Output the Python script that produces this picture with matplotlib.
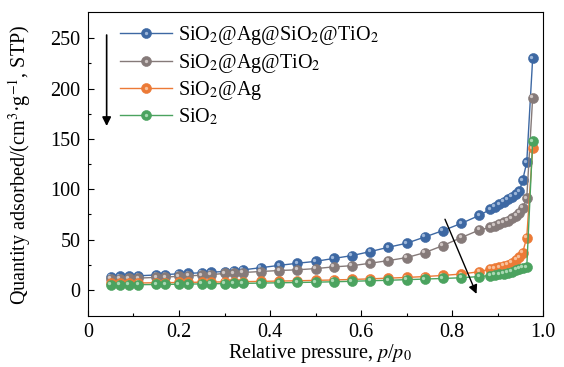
import matplotlib
matplotlib.use("Agg")
import matplotlib.pyplot as plt
import matplotlib.transforms as mtransforms
from matplotlib.legend_handler import HandlerTuple

plt.rcParams['font.family'] = ['Liberation Serif', 'DejaVu Serif']
plt.rcParams['mathtext.fontset'] = 'stix'

p = [0.05, 0.07, 0.09, 0.11, 0.15, 0.17, 0.20, 0.22, 0.25, 0.27, 0.30, 0.32, 0.34,
     0.38, 0.42, 0.46, 0.50, 0.54, 0.58, 0.62, 0.66, 0.70, 0.74, 0.78, 0.82, 0.86,
     0.884, 0.894, 0.904, 0.913, 0.922, 0.931, 0.941, 0.948, 0.955, 0.964, 0.977]

sio2_ag_sio2_tio2 = [13, 13.3, 13.6, 13.9, 14.8, 15.2, 15.9, 16.3, 17, 17.5, 18.2, 19, 19.8,
                     22, 24.3, 26.4, 28.3, 31.2, 34, 38, 42.3, 46.3, 52.5, 58.9, 66, 74,
                     80, 82.7, 85, 87.6, 90, 92.6, 95, 98, 109, 126.7, 230]
sio2_ag_tio2 = [11, 11.2, 11.4, 11.6, 12.4, 12.7, 13.4, 13.8, 14.6, 15.1, 16.3, 16.6, 17.2,
                18.2, 19.2, 19.9, 21.1, 22.8, 24, 26.4, 29.1, 32, 37, 44, 51.9, 59.5,
                62, 63.5, 65.5, 67, 68.7, 71, 73.4, 76.7, 81.6, 91, 191]
sio2_ag = [6.5, 6.6, 6.7, 6.8, 7, 7.1, 7.3, 7.4, 7.6, 7.7, 7.9, 8, 8.1,
           8.4, 8.7, 9, 9.4, 9.8, 10.3, 10.9, 11.6, 12.3, 13.2, 14.3, 15.7, 18,
           20.8, 21.5, 22.5, 23.8, 25, 27, 29.8, 32.4, 37, 52, 140.5]
sio2 = [4.8, 4.9, 5, 5.1, 5.3, 5.4, 5.6, 5.7, 5.9, 6, 6.2, 6.3, 6.4,
        6.7, 7, 7.3, 7.6, 8, 8.5, 9, 9.5, 10.1, 10.7, 11.3, 12, 13.2,
        14.2, 14.9, 15.5, 16.2, 17.2, 18.2, 19.8, 21, 22, 22.4, 147.8]

labels = ['SiO$_2$@Ag@SiO$_2$@TiO$_2$', 'SiO$_2$@Ag@TiO$_2$', 'SiO$_2$@Ag', 'SiO$_2$']
colors = ['#3d68a3', '#857a79', '#ec7a36', '#4ba35f']
highlights = ['#9db6d9', '#cfc6c4', '#f8c09a', '#a9d9b3']
series = [sio2_ag_sio2_tio2, sio2_ag_tio2, sio2_ag, sio2]

xticks = [0, 0.2, 0.4, 0.6, 0.8, 1.0]
xticklabels = ['0', '0.2', '0.4', '0.6', '0.8', '1.0']
yticks = [0, 50, 100, 150, 200, 250]

FS = 14.5

fig = plt.figure(figsize=(5.64, 3.67), dpi=100)
ax = fig.add_axes([0.156, 0.139, 0.807, 0.828])

hl_trans = mtransforms.offset_copy(ax.transData, fig=fig, x=-1.1, y=1.1, units='points')
handles = []
for ys, c, h, lab in zip(series, colors, highlights, labels):
    ln, = ax.plot(p, ys, '-', color=c, lw=1.0, marker='o', ms=7.2, mfc=c, mec=c, mew=0.4)
    hl, = ax.plot(p, ys, linestyle='none', marker='o', ms=2.4, mfc=h, mec='none',
                  transform=hl_trans)
    handles.append((ln, hl))

ax.set_xlim(0, 1.0)
ax.set_ylim(-26, 276)
ax.set_xticks(xticks)
ax.set_xticklabels(xticklabels)
ax.set_xticks([0.1, 0.3, 0.5, 0.7, 0.9], minor=True)
ax.set_yticks(yticks)
ax.set_yticks([25, 75, 125, 175, 225], minor=True)
ax.tick_params(which='both', direction='in', top=False, right=False, labelsize=FS)
ax.tick_params(which='major', length=4, width=0.8)
ax.tick_params(which='minor', length=2.5, width=0.8)
ax.tick_params(axis='x', which='both', pad=5)
ax.tick_params(axis='y', which='both', pad=5.5)
for s in ax.spines.values():
    s.set_linewidth(0.8)

ax.set_xlabel('Relative pressure, $p$/$p_0$', fontsize=FS)
ax.xaxis.set_label_coords(0.51, -0.086)
ax.set_ylabel('Quantity adsorbed/(cm$^3$·g$^{-1}$, STP)', fontsize=FS)
ax.yaxis.set_label_coords(-0.121, 0.497)

leg = ax.legend(handles, labels, loc='upper left', bbox_to_anchor=(0.07, 0.96),
                frameon=False, fontsize=FS, handlelength=2.6, handletextpad=0.3,
                labelspacing=0.22, borderaxespad=0, borderpad=0,
                handler_map={tuple: HandlerTuple(ndivide=1, pad=0)})

ax.annotate('', xy=(0.041, 160), xytext=(0.041, 256),
            arrowprops=dict(arrowstyle='-|>', color='k', lw=1.2, mutation_scale=13))
ax.annotate('', xy=(0.856, -6.6), xytext=(0.782, 72.7),
            arrowprops=dict(arrowstyle='-|>', color='k', lw=1.0, mutation_scale=13))

fig.savefig('out.png', dpi=100)
